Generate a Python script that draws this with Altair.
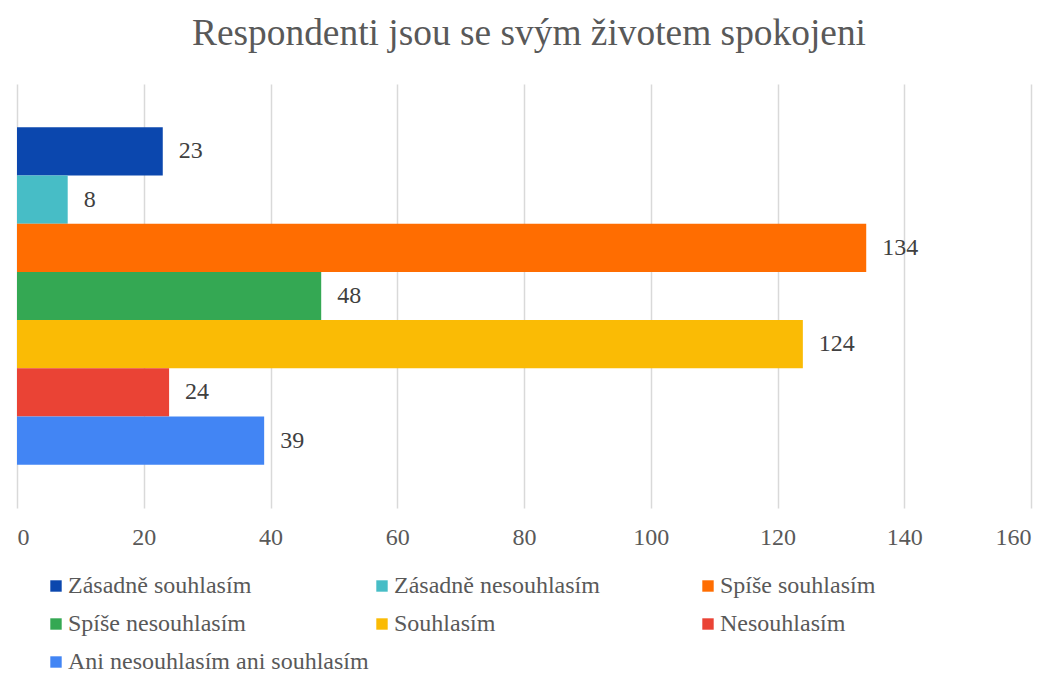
import altair as alt
import pandas as pd

categories = [
    "Zásadně souhlasím",
    "Zásadně nesouhlasím",
    "Spíše souhlasím",
    "Spíše nesouhlasím",
    "Souhlasím",
    "Nesouhlasím",
    "Ani nesouhlasím ani souhlasím",
]
values = [23, 8, 134, 48, 124, 24, 39]
colors = ["#0B47AE", "#47BDC6", "#FF6D01", "#34A853", "#FABB05", "#EA4335", "#4285F4"]

df = pd.DataFrame({"kat": categories, "val": values})

FONT = "'Liberation Serif', 'Times New Roman', serif"

y_enc = alt.Y(
    "kat:N",
    sort=categories,
    scale=alt.Scale(paddingInner=0, paddingOuter=0.9),
    axis=None,
)
x_enc = alt.X(
    "val:Q",
    scale=alt.Scale(domain=[0, 160], nice=False),
    axis=alt.Axis(
        values=[0, 20, 40, 60, 80, 100, 120, 140, 160],
        title=None,
        domain=False,
        ticks=False,
        labelPadding=17,
        labelFontSize=24,
        labelFont=FONT,
        labelColor="#595959",
        grid=True,
        gridColor="#d9d9d9",
        gridWidth=1.5,
    ),
)

bars = alt.Chart(df).mark_bar().encode(
    x=x_enc,
    y=y_enc,
    color=alt.Color(
        "kat:N",
        sort=categories,
        scale=alt.Scale(domain=categories, range=colors),
        legend=alt.Legend(
            title=None,
            orient="none",
            legendX=27,
            legendY=490,
            direction="horizontal",
            columns=3,
            gridAlign="all",
            columnPadding=1,
            rowPadding=14,
            symbolType="square",
            symbolSize=130,
            symbolStrokeWidth=0,
            labelFont=FONT,
            labelFontSize=24,
            labelColor="#595959",
            labelOffset=0,
            labelLimit=500,
            padding=0,
        ),
    ),
)

labels = alt.Chart(df).mark_text(
    align="left", baseline="middle", dx=16, font=FONT, fontSize=24, color="#404040"
).encode(
    x=alt.X("val:Q", scale=alt.Scale(domain=[0, 160], nice=False)),
    y=alt.Y("kat:N", sort=categories, scale=alt.Scale(paddingInner=0, paddingOuter=0.9)),
    text="val:Q",
)

chart = (
    alt.layer(bars, labels)
    .properties(
        width=1014,
        height=424,
        title=alt.TitleParams(
            "Respondenti jsou se svým životem spokojeni",
            font=FONT,
            fontSize=37.4,
            fontWeight="normal",
            color="#595959",
            anchor="middle",
            offset=32,
            dx=5,
        ),
        autosize=alt.AutoSizeParams(type="none"),
        padding={"left": 9, "top": 76, "right": 12, "bottom": 167},
    )
    .configure_view(stroke=None)
)

chart.save("out.html", embed_options={"renderer": "svg", "actions": False})
